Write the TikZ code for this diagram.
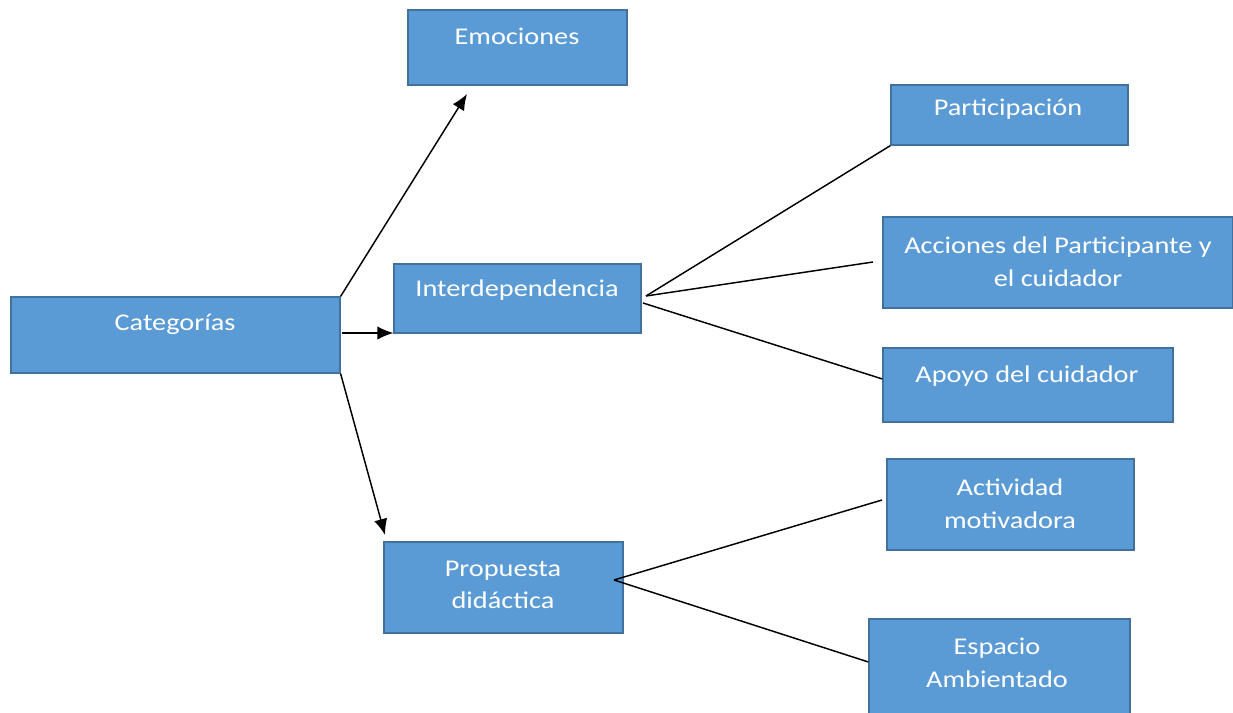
\documentclass[tikz,border=0pt]{standalone}
\usepackage{fontspec}
\setmainfont{Carlito}[FakeStretch=1.18]
\usetikzlibrary{fit,arrows.meta}
\definecolor{boxfill}{HTML}{5B9BD5}
\definecolor{boxline}{HTML}{41719C}
\tikzset{
  box/.style={draw=boxline, fill=boxfill, line width=0.9pt, inner sep=0pt, rectangle},
  txt/.style={text=white, align=center, inner sep=0pt, font=\fontsize{18}{24.5}\selectfont},
  conn/.style={draw=black, line width=1.1pt},
  arr/.style={conn, -{Latex[length=12pt,width=10pt]}}
}
\begin{document}
\begin{tikzpicture}[x=0.75pt,y=-0.75pt]
\useasboundingbox (0,0) rectangle (1233,713);
% boxes
\node[box, fit={(408,10) (627,85)}] (emo) {};
\node[box, fit={(11,297) (340,373)}] (cat) {};
\node[box, fit={(394,264) (641,333)}] (inter) {};
\node[box, fit={(891,85) (1128,145)}] (part) {};
\node[box, fit={(883,217) (1233,308)}] (acc) {};
\node[box, fit={(883,348) (1173,422)}] (apoyo) {};
\node[box, fit={(887,459) (1134,550)}] (activ) {};
\node[box, fit={(384,542) (623,633)}] (prop) {};
\node[box, fit={(869,619) (1130,716)}] (esp) {};
% texts
\node[txt] (temo) at (517,36) {Emociones};
\node[txt] (tcat) at (175,324) {Categorías};
\node[txt] (tinter) at (517,290) {Interdependencia};
\node[txt] (tpart) at (1008,109) {Participación};
\node[txt] (tacc) at (1058,262) {Acciones del Participante y\\el cuidador};
\node[txt] (tapoyo) at (1027,376) {Apoyo del cuidador};
\node[txt] (tactiv) at (1010,504) {Actividad\\motivadora};
\node[txt] (tprop) at (503,585) {Propuesta\\didáctica};
\node[txt] (tesp) at (997,663) {Espacio\\Ambientado};
% connector ends
\coordinate (e1) at (467,94);
\coordinate (c2) at (342,333);
\coordinate (e3) at (385,535);
\coordinate (i0) at (646,296);
\coordinate (i3) at (643,303);
\coordinate (a2) at (873,262);
\coordinate (p0) at (614,580);
\coordinate (p1) at (882,500);
% connectors
\draw[arr] (cat.north east) -- (e1);
\draw[arr] (c2) -- (inter.west |- c2);
\draw[arr] (cat.south east) -- (e3);
\draw[conn] (i0) -- (part.south west);
\draw[conn] (i0) -- (a2);
\draw[conn] (i3) -- (apoyo.west |- 0,379);
\draw[conn] (p0) -- (p1);
\draw[conn] (p0) -- (esp.west |- 0,662);
\end{tikzpicture}
\end{document}
